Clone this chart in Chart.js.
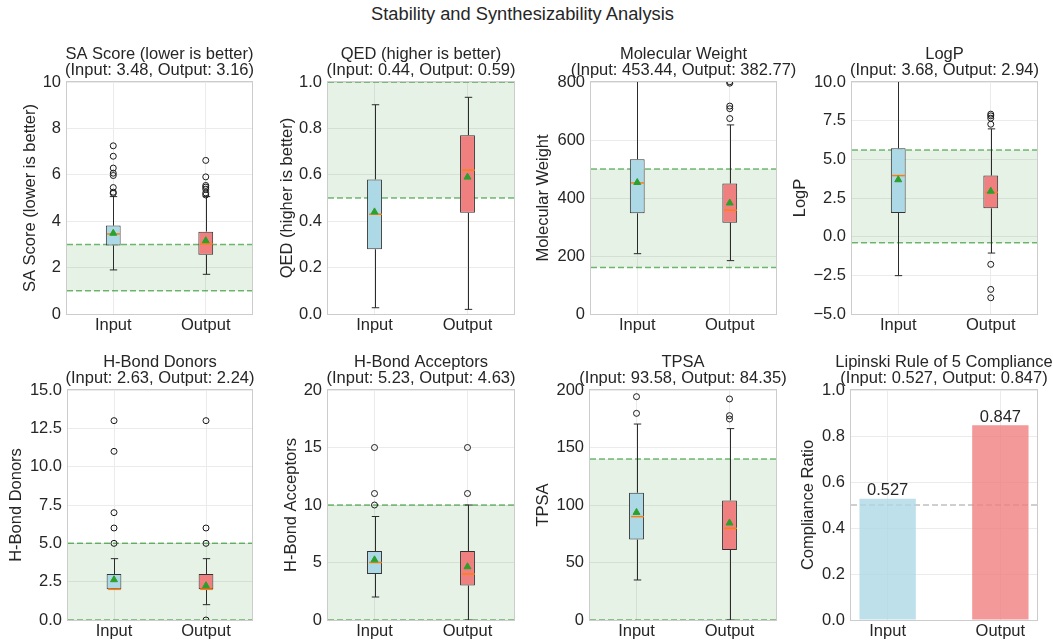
<!DOCTYPE html>
<html>
<head>
<meta charset="utf-8">
<script src="https://cdn.jsdelivr.net/npm/chart.js@4.4.0/dist/chart.umd.min.js"></script>
<style>
  body { margin: 0; background: #fff; width: 1053px; height: 641px; overflow: hidden; position: relative;
         font-family: 'Liberation Sans', Arial, sans-serif; }
  #sup { position: absolute; left: 0; top: 3px; width: 1045px; text-align: center;
         font-size: 18.3px; line-height: 22px; color: #262626; }
  canvas { position: absolute; }
</style>
</head>
<body>
<div id="sup">Stability and Synthesizability Analysis</div>
<script>
Chart.defaults.font.family = "'Liberation Sans', Arial, sans-serif";
Chart.defaults.font.size = 16.5;
Chart.defaults.color = '#262626';

const groups = ['Input', 'Output'];

// box stats: [lower whisker, Q1, median, Q3, upper whisker, mean]
const saInput = [1.9, 2.95, 3.45, 3.81, 5.06, 3.48];
const saOutput = [1.71, 2.55, 3.02, 3.55, 5.06, 3.16];
const saInputFliers = [5.2, 5.25, 5.45, 5.97, 6.07, 6.29, 6.8, 7.25];
const saOutputFliers = [5.13, 5.22, 5.38, 5.47, 5.54, 5.91, 6.62];
const saBand = [1, 3];

const qedInput = [0.027, 0.279, 0.43, 0.58, 0.902, 0.44];
const qedOutput = [0.02, 0.436, 0.62, 0.771, 0.934, 0.59];
const qedInputFliers = [];
const qedOutputFliers = [];
const qedBand = [0.5, 1.0];

const mwInput = [208, 347, 452, 534, 880, 453.44];
const mwOutput = [184, 315, 358, 450, 652, 382.77];
const mwInputFliers = [];
const mwOutputFliers = [674, 708, 717, 796, 801];
const mwBand = [160, 500];

const logpInput = [-2.52, 1.53, 3.95, 5.72, 11.2, 3.68];
const logpOutput = [-1.06, 1.83, 2.87, 3.95, 6.97, 2.94];
const logpInputFliers = [];
const logpOutputFliers = [-3.95, -3.41, -1.79, 7.27, 7.66, 7.81, 7.92];
const logpBand = [-0.4, 5.6];

const hbdInput = [2, 2, 2, 3, 4, 2.63];
const hbdOutput = [1, 2, 2, 3, 4, 2.24];
const hbdInputFliers = [5, 6, 7, 11, 13];
const hbdOutputFliers = [0, 5, 6, 13];
const hbdBand = [0, 5];

const hbaInput = [2, 4, 5, 6, 9, 5.23];
const hbaOutput = [0, 3, 4, 6, 10, 4.63];
const hbaInputFliers = [10, 11, 15];
const hbaOutputFliers = [11, 15];
const hbaBand = [0, 10];

const tpsaInput = [34.8, 69.9, 89.9, 110.7, 170.4, 93.58];
const tpsaOutput = [0, 60.9, 79.7, 104, 166.4, 84.35];
const tpsaInputFliers = [179.7, 194.2];
const tpsaOutputFliers = [174.8, 177.7, 192.2];
const tpsaBand = [0, 140];

const lipinski = [0.527, 0.847];
const lipinskiRef = [0.5];

const A = 80;          // room for y axis on the left (and a blank twin on the right)
const TOP_BLOCK = 52;  // title block above plot
const X_H = 25;        // x axis height
const GRID = '#ebebeb';

function fmt(d) {
  return v => (v < 0 ? '\u2212' : '') + Math.abs(v).toFixed(d);
}

function makeCanvas(plotLeft, plotTop, plotW, plotH) {
  const c = document.createElement('canvas');
  c.width = plotW + 2 * A;
  c.height = TOP_BLOCK + plotH + X_H;
  c.style.left = (plotLeft - A) + 'px';
  c.style.top = (plotTop - TOP_BLOCK) + 'px';
  c.style.width = c.width + 'px';
  c.style.height = c.height + 'px';
  document.body.appendChild(c);
  return c;
}

function clip(ctx, a) {
  ctx.beginPath();
  ctx.rect(a.left, a.top, a.width, a.height);
  ctx.clip();
}

const framePlugin = {
  id: 'frame',
  afterDraw(chart) {
    const { ctx, chartArea: a } = chart;
    ctx.save();
    ctx.strokeStyle = '#cccccc';
    ctx.lineWidth = 1;
    ctx.strokeRect(a.left - 0.5, a.top - 0.5, a.width + 1, a.height + 1);
    ctx.restore();
  }
};

function refPlugin(levels, lineColor, fillColor) {
  return {
    id: 'ref',
    beforeDatasetsDraw(chart) {
      const { ctx, chartArea: a, scales: { y } } = chart;
      ctx.save();
      clip(ctx, a);
      if (fillColor && levels.length === 2) {
        const y0 = y.getPixelForValue(levels[0]);
        const y1 = y.getPixelForValue(levels[1]);
        ctx.fillStyle = fillColor;
        ctx.fillRect(a.left, Math.min(y0, y1), a.width, Math.abs(y0 - y1));
      }
      ctx.strokeStyle = lineColor;
      ctx.lineWidth = 1.5;
      ctx.setLineDash([6, 3]);
      levels.forEach(v => {
        const py = y.getPixelForValue(v);
        ctx.beginPath();
        ctx.moveTo(a.left, py);
        ctx.lineTo(a.right, py);
        ctx.stroke();
      });
      ctx.restore();
    }
  };
}

function whiskerPlugin(stats) {
  return {
    id: 'whiskers',
    afterDatasetDraw(chart, args) {
      if (args.index !== 2) return;
      const { ctx, chartArea: a, scales: { x, y } } = chart;
      ctx.save();
      clip(ctx, a);
      stats.forEach((s, i) => {
        const cx = Math.round(x.getPixelForValue(i)) + 0.5;
        const half = args.meta.data[i].width / 2;
        ctx.strokeStyle = '#2b2b2b';
        ctx.lineWidth = 1;
        const seg = (x0, y0, x1, y1) => { ctx.beginPath(); ctx.moveTo(x0, y0); ctx.lineTo(x1, y1); ctx.stroke(); };
        const lo = y.getPixelForValue(s[0]), q1 = y.getPixelForValue(s[1]);
        const q3 = y.getPixelForValue(s[3]), hi = y.getPixelForValue(s[4]);
        seg(cx, lo, cx, q1);
        seg(cx, q3, cx, hi);
        seg(cx - half / 2, lo, cx + half / 2, lo);
        seg(cx - half / 2, hi, cx + half / 2, hi);
        ctx.strokeStyle = '#ff7f0e';
        ctx.lineWidth = 1.5;
        const md = y.getPixelForValue(s[2]);
        seg(cx - half + 1, md, cx + half - 1, md);
      });
      ctx.restore();
    }
  };
}

const valuePlugin = {
  id: 'values',
  afterDatasetsDraw(chart) {
    const { ctx } = chart;
    const meta = chart.getDatasetMeta(0);
    ctx.save();
    ctx.font = "16.5px 'Liberation Sans', Arial, sans-serif";
    ctx.fillStyle = '#262626';
    ctx.textAlign = 'center';
    ctx.textBaseline = 'alphabetic';
    meta.data.forEach((el, i) => {
      ctx.fillText(lipinski[i].toFixed(3), el.x, el.y - 3.5);
    });
    ctx.restore();
  }
};

function titleOpts(lines) {
  return {
    display: true, text: lines, color: '#262626',
    font: { size: 16.5, weight: 'normal', lineHeight: '16px' },
    padding: { top: 16, bottom: 4 }
  };
}

function yAxis(label, min, max, step, dec, labelX, plotLeft) {
  return {
    type: 'linear', position: 'left', min, max,
    ticks: { stepSize: step, padding: 6, callback: fmt(dec) },
    grid: { color: GRID, drawTicks: false },
    border: { display: false },
    title: { display: true, text: label, color: '#262626', font: { size: 16.5 },
             padding: { top: labelX - (plotLeft - A) - 9.9, bottom: 0 } },
    afterFit: s => { s.width = A; }
  };
}

const twinAxis = {
  type: 'linear', position: 'right', display: true,
  ticks: { display: false }, grid: { display: false }, border: { display: false },
  afterFit: s => { s.width = A; }
};

function boxChart(p) {
  const canvas = makeCanvas(p.left, p.top, p.w, p.h);
  const fliers = p.inF.map(v => ({ x: groups[0], y: v })).concat(p.outF.map(v => ({ x: groups[1], y: v })));
  new Chart(canvas, {
    type: 'bar',
    data: {
      labels: groups,
      datasets: [
        { type: 'line', data: [p.inS[5], p.outS[5]], showLine: false, pointStyle: 'triangle',
          pointRadius: 4, backgroundColor: '#2ca02c', borderColor: '#2ca02c', borderWidth: 1 },
        { type: 'scatter', data: fliers, pointRadius: 3, backgroundColor: 'rgba(0,0,0,0)',
          borderColor: '#1a1a1a', borderWidth: 1, clip: 0 },
        { type: 'bar', data: [[p.inS[1], p.inS[3]], [p.outS[1], p.outS[3]]],
          backgroundColor: ['#add8e6', '#f08080'], borderColor: '#333333', borderWidth: 1,
          borderSkipped: false, barPercentage: 0.16, categoryPercentage: 1 }
      ]
    },
    options: {
      responsive: false, animation: false,
      layout: { padding: 0 },
      plugins: {
        legend: { display: false }, tooltip: { enabled: false },
        title: titleOpts([p.title, '(Input: ' + p.inS[5].toFixed(2) + ', Output: ' + p.outS[5].toFixed(2) + ')'])
      },
      scales: {
        x: { type: 'category', offset: true, grid: { color: GRID, drawTicks: false, offset: false },
             border: { display: false }, ticks: { padding: 2 }, afterFit: s => { s.height = X_H; } },
        y: yAxis(p.ylabel, p.min, p.max, p.step, p.dec, p.labelX, p.left),
        yR: twinAxis
      }
    },
    plugins: [refPlugin(p.band, 'rgba(0,128,0,0.55)', 'rgba(0,128,0,0.1)'), whiskerPlugin([p.inS, p.outS]), framePlugin]
  });
}

const ROW1 = 82, ROW1_H = 232, ROW2 = 390, ROW2_H = 230;

boxChart({ left: 67, top: ROW1, w: 185, h: ROW1_H, labelX: 30, title: 'SA Score (lower is better)',
  ylabel: 'SA Score (lower is better)', min: 0, max: 10, step: 2, dec: 0,
  inS: saInput, outS: saOutput, inF: saInputFliers, outF: saOutputFliers, band: saBand });
boxChart({ left: 328, top: ROW1, w: 186, h: ROW1_H, labelX: 287.7, title: 'QED (higher is better)',
  ylabel: 'QED (higher is better)', min: 0, max: 1, step: 0.2, dec: 1,
  inS: qedInput, outS: qedOutput, inF: qedInputFliers, outF: qedOutputFliers, band: qedBand });
boxChart({ left: 591, top: ROW1, w: 185, h: ROW1_H, labelX: 543, title: 'Molecular Weight',
  ylabel: 'Molecular Weight', min: 0, max: 800, step: 200, dec: 0,
  inS: mwInput, outS: mwOutput, inF: mwInputFliers, outF: mwOutputFliers, band: mwBand });
boxChart({ left: 852, top: ROW1, w: 185, h: ROW1_H, labelX: 800, title: 'LogP',
  ylabel: 'LogP', min: -5, max: 10, step: 2.5, dec: 1,
  inS: logpInput, outS: logpOutput, inF: logpInputFliers, outF: logpOutputFliers, band: logpBand });
boxChart({ left: 68, top: ROW2, w: 184, h: ROW2_H, labelX: 16.5, title: 'H-Bond Donors',
  ylabel: 'H-Bond Donors', min: 0, max: 15, step: 2.5, dec: 1,
  inS: hbdInput, outS: hbdOutput, inF: hbdInputFliers, outF: hbdOutputFliers, band: hbdBand });
boxChart({ left: 328, top: ROW2, w: 186, h: ROW2_H, labelX: 291.7, title: 'H-Bond Acceptors',
  ylabel: 'H-Bond Acceptors', min: 0, max: 20, step: 5, dec: 0,
  inS: hbaInput, outS: hbaOutput, inF: hbaInputFliers, outF: hbaOutputFliers, band: hbaBand });
boxChart({ left: 590, top: ROW2, w: 186, h: ROW2_H, labelX: 543, title: 'TPSA',
  ylabel: 'TPSA', min: 0, max: 200, step: 50, dec: 0,
  inS: tpsaInput, outS: tpsaOutput, inF: tpsaInputFliers, outF: tpsaOutputFliers, band: tpsaBand });

// Lipinski compliance bars
(function () {
  const left = 851, w = 186;
  const canvas = makeCanvas(left, ROW2, w, ROW2_H);
  new Chart(canvas, {
    type: 'bar',
    data: {
      datasets: [{
        data: lipinski.map((v, i) => ({ x: i, y: v })),
        backgroundColor: ['rgba(173,216,230,0.8)', 'rgba(240,128,128,0.8)'],
        borderWidth: 0, barPercentage: 0.5, categoryPercentage: 1
      }]
    },
    options: {
      responsive: false, animation: false,
      layout: { padding: 0 },
      plugins: {
        legend: { display: false }, tooltip: { enabled: false },
        title: titleOpts(['Lipinski Rule of 5 Compliance',
          '(Input: ' + lipinski[0].toFixed(3) + ', Output: ' + lipinski[1].toFixed(3) + ')'])
      },
      scales: {
        x: { type: 'linear', min: -0.325, max: 1.325, offset: false,
             afterBuildTicks: s => { s.ticks = groups.map((g, i) => ({ value: i })); },
             ticks: { padding: 2, callback: v => groups[v] },
             grid: { color: GRID, drawTicks: false, offset: false }, border: { display: false },
             afterFit: s => { s.height = X_H; } },
        y: yAxis('Compliance Ratio', 0, 1, 0.2, 1, 808, left),
        yR: twinAxis
      }
    },
    plugins: [refPlugin(lipinskiRef, 'rgba(128,128,128,0.5)', null), valuePlugin, framePlugin]
  });
})();
</script>
</body>
</html>
